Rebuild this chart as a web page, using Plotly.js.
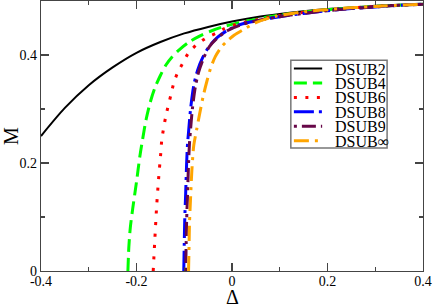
<!DOCTYPE html>
<html><head><meta charset="utf-8">
<script src="https://cdn.plot.ly/plotly-3.0.1.min.js"></script>
<style>html,body{margin:0;padding:0;background:#fff;}#chart{width:436px;height:305px;}</style>
</head><body><div id="chart"></div>
<script>
// ---- data ----
const seriesNames = ["DSUB2", "DSUB4", "DSUB6", "DSUB8", "DSUB9", "DSUB\u221E"];
const xAxisTitle = "\u0394";
const yAxisTitle = "M";

const deltaDSUB2 = [-0.4,-0.35,-0.3,-0.25,-0.2,-0.15,-0.1,-0.05,0,0.05,0.1,0.15,0.2,0.25,0.3,0.35,0.4];
const mDSUB2     = [0.25,0.302,0.344,0.377,0.404,0.424,0.440,0.452,0.462,0.470,0.476,0.481,0.485,0.488,0.491,0.493,0.494];

const deltaDSUB4 = [-0.218,-0.216,-0.213,-0.208,-0.2,-0.193,-0.187,-0.18,-0.172,-0.162,-0.15,-0.138,-0.126,-0.11,-0.09,-0.068,-0.045,-0.02,0.01,0.05,0.1,0.15,0.2,0.25,0.3,0.35,0.4];
const mDSUB4     = [0,0.045,0.08,0.115,0.165,0.212,0.245,0.28,0.31,0.338,0.362,0.382,0.396,0.41,0.424,0.435,0.444,0.452,0.459,0.466,0.474,0.479,0.484,0.487,0.49,0.492,0.494];

const deltaDSUB6 = [-0.165,-0.162,-0.158,-0.155,-0.151,-0.149,-0.147,-0.139,-0.128,-0.122,-0.114,-0.103,-0.091,-0.074,-0.055,-0.032,-0.016,0.009,0.05,0.1,0.15,0.2,0.25,0.3,0.35,0.4];
const mDSUB6     = [0,0.052,0.117,0.156,0.2,0.22,0.243,0.285,0.326,0.348,0.367,0.385,0.404,0.419,0.431,0.441,0.449,0.457,0.465,0.473,0.479,0.483,0.487,0.49,0.492,0.494];

const deltaDSUB8 = [-0.101,-0.1,-0.099,-0.097,-0.095,-0.093,-0.091,-0.087,-0.08,-0.072,-0.061,-0.047,-0.03,-0.009,0.016,0.05,0.1,0.15,0.2,0.25,0.3,0.35,0.4];
const mDSUB8     = [0,0.05,0.094,0.144,0.2,0.237,0.257,0.298,0.344,0.372,0.396,0.417,0.433,0.446,0.456,0.463,0.471,0.477,0.482,0.486,0.489,0.492,0.494];

const deltaDSUB9 = [-0.097,-0.096,-0.095,-0.093,-0.091,-0.089,-0.087,-0.083,-0.077,-0.07,-0.06,-0.047,-0.03,-0.01,0.016,0.05,0.1,0.15,0.2,0.25,0.3,0.35,0.4];
const mDSUB9     = [0,0.05,0.094,0.144,0.2,0.237,0.26,0.3,0.34,0.368,0.393,0.416,0.432,0.445,0.455,0.463,0.471,0.477,0.482,0.486,0.489,0.492,0.494];

const deltaDSUBinf = [-0.091,-0.09,-0.089,-0.087,-0.084,-0.08,-0.074,-0.068,-0.06,-0.053,-0.045,-0.035,-0.022,-0.01,0.005,0.022,0.05,0.093,0.15,0.21,0.3,0.4];
const mDSUBinf     = [0,0.045,0.089,0.131,0.187,0.233,0.262,0.29,0.325,0.35,0.375,0.397,0.415,0.426,0.437,0.446,0.46,0.472,0.48,0.485,0.49,0.494];

const xTickVals = [-0.4,-0.2,0,0.2,0.4];
const xTickText = ["-0.4","-0.2","0","0.2","0.4"];
const yTickVals = [0,0.2,0.4];
const yTickText = ["0","0.2","0.4"];

// ---- styles ----
const xs = [deltaDSUB2, deltaDSUB4, deltaDSUB6, deltaDSUB8, deltaDSUB9, deltaDSUBinf];
const ys = [mDSUB2, mDSUB4, mDSUB6, mDSUB8, mDSUB9, mDSUBinf];
const colors = ["#000000", "#00ff00", "#ff0000", "#0000ff", "#670748", "#ffa500"];
const dashes = ["solid", "13px,6px", "3px,8.5px", "20px,5px,3px,5px", "3px,5px,14px,5px", "15px,6px,3px,6px"];
const widths = [2, 3, 3, 3, 3, 3];
const serif = "Liberation Serif";

const traces = seriesNames.map((n, i) => ({
  type: "scatter", mode: "lines", name: n,
  x: xs[i], y: ys[i],
  line: {color: colors[i], dash: dashes[i], width: widths[i], shape: "spline", smoothing: 0.8},
  showlegend: false, hoverinfo: "skip"
}));

// legend built from the same style arrays
const L = {x0: 0.654, x1: 0.906, yTop: 0.781, yBot: 0.456, sx0: 0.662, sx1: 0.736, tx: 0.768, row0: 0.750, rowStep: 0.0535};
const shapes = [{type: "rect", xref: "paper", yref: "paper", x0: L.x0, x1: L.x1, y0: L.yBot, y1: L.yTop,
  line: {color: "#777", width: 1.5}, fillcolor: "#fff"}];
const annotations = [];
seriesNames.forEach((n, i) => {
  const yy = L.row0 - i * L.rowStep;
  shapes.push({type: "line", xref: "paper", yref: "paper", x0: L.sx0, x1: L.sx1, y0: yy, y1: yy,
    line: {color: colors[i], dash: dashes[i], width: widths[i]}});
  annotations.push({xref: "paper", yref: "paper", x: L.tx, y: yy, xanchor: "left", yanchor: "middle",
    height: 14, valign: "middle", borderpad: 0,
    text: n, showarrow: false, font: {family: serif, size: 16, color: "#000"}});
});
// x-axis title placed below the tick labels
annotations.push({xref: "paper", yref: "paper", x: 0.5, y: -0.093, xanchor: "center", yanchor: "middle",
  height: 17, valign: "middle", borderpad: 0,
  text: xAxisTitle, showarrow: false, font: {family: serif, size: 20, color: "#000"}});

const axisCommon = {
  showgrid: false, zeroline: false, showline: true, linecolor: "#444", linewidth: 1.2,
  mirror: "ticks", ticks: "inside", ticklen: 8, tickwidth: 1.2, tickcolor: "#444",
  tickfont: {family: serif, size: 14, color: "#000"},
  minor: {ticks: "inside", ticklen: 4, tickwidth: 1.2, tickcolor: "#444", dtick: 0.1}
};

const layout = {
  width: 436, height: 305,
  margin: {l: 41, r: 13, t: 1, b: 34},
  paper_bgcolor: "#fff", plot_bgcolor: "#fff",
  showlegend: false,
  xaxis: Object.assign({}, axisCommon, {
    range: [-0.4, 0.4], tickmode: "array", tickvals: xTickVals, ticktext: xTickText,
    ticklabelstandoff: -3
  }),
  yaxis: Object.assign({}, axisCommon, {
    range: [0, 0.5], tickmode: "array", tickvals: yTickVals, ticktext: yTickText,
    title: {text: yAxisTitle, font: {family: serif, size: 20, color: "#000"}}
  }),
  shapes: shapes,
  annotations: annotations
};

Plotly.newPlot("chart", traces, layout, {staticPlot: true, displayModeBar: false});
</script>
</body></html>
